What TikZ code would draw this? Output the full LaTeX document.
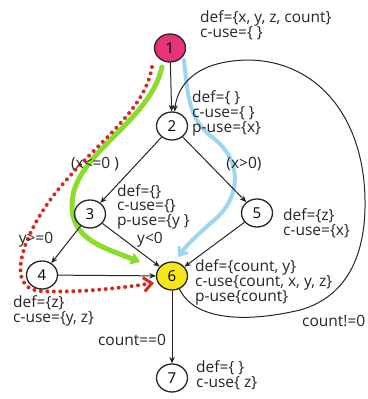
\documentclass[tikz,border=0pt]{standalone}
\usepackage{fontspec}
\setmainfont{Open Sans}
\usetikzlibrary{arrows.meta,shapes.geometric}
\definecolor{pinkfill}{HTML}{E8337A}
\definecolor{yelfill}{HTML}{F4E61A}
\definecolor{hlred}{HTML}{D42A22}
\definecolor{hlgreen}{HTML}{8DDB2C}
\definecolor{hlblue}{HTML}{9ED6F0}
\definecolor{ink}{HTML}{252525}
\begin{document}
\begin{tikzpicture}[x=1pt,y=-1pt,
  st/.style={draw=ink,line width=1.3pt,ellipse,minimum width=31pt,minimum height=28pt,inner sep=0pt,font=\fontsize{15}{15}\selectfont},
  edge/.style={draw=ink,line width=1pt,-{Stealth[length=6.5pt,width=5.5pt]}},
  lbl/.style={font=\fontsize{15.5}{15}\selectfont,text=ink,align=left,anchor=north west,inner sep=0pt},
  elbl/.style={font=\fontsize{15.5}{15}\selectfont,text=ink,inner sep=0pt},
  hl/.style={line cap=round}]
\useasboundingbox[fill=white] (0,0) rectangle (367,399);
% highlights
\coordinate (rs) at (152,67);
\coordinate (re) at (154,283);
\coordinate (gs) at (162,67);
\coordinate (ge) at (140,262);
\coordinate (bs) at (184,60);
\coordinate (be) at (178,257);
\draw[hl,hlgreen,line width=5pt,-{Triangle[length=9pt,width=12pt]}]
  (gs) .. controls (150,120) and (82,150) .. (73,195)
       .. controls (66,238) and (100,246) .. (ge);
\draw[hl,hlblue,line width=4pt,-{Straight Barb[length=7pt,width=11pt,line width=3pt]}]
  (bs) .. controls (188,100) and (190,120) .. (212,137)
       .. controls (245,162) and (240,200) .. (212,222)
       .. controls (196,236) and (186,246) .. (be);
\draw[hlred,line width=4pt,line cap=round,dash pattern=on 0pt off 6.5pt,-{Straight Barb[length=8pt,width=14pt,line width=3pt]}]
  (rs) .. controls (145,110) and (100,140) .. (62,185)
       .. controls (25,228) and (2,288) .. (40,291)
       .. controls (80,293) and (120,288) .. (re);
% nodes
\node[st,fill=pinkfill] (n1) at (170,48) {1};
\node[st] (n2) at (172,126) {2};
\node[st] (n3) at (90,214) {3};
\node[st] (n5) at (257,213) {5};
\node[st] (n4) at (42,275) {4};
\node[st,fill=yelfill] (n6) at (172,276) {6};
\node[st] (n7) at (172,378) {7};
% edges
\draw[edge] (n1) -- (n2);
\draw[edge] (n2) -- (n3);
\draw[edge] (n2) -- (n5);
\draw[edge] (n3) -- (n4);
\draw[edge] (n3) -- (n6);
\draw[edge] (n4) -- (n6);
\draw[edge] (n5) -- (n6);
\draw[edge] (n6) -- (n7);
\draw[edge] (n6.-60) .. controls (195,322) and (250,322) .. (300,310)
   .. controls (350,296) and (366,250) .. (365,200)
   .. controls (364,120) and (320,62) .. (250,60)
   .. controls (200,60) and (178,82) .. (n2.80);
% node labels
\node[lbl] (t1) at (200,10) {def=\{x, y, z, count\}\\c-use=\{ \}};
\node[lbl] (t2) at (192,90) {def=\{ \}\\c-use=\{ \}\\p-use=\{x\}};
\node[lbl,font=\fontsize{15.5}{13.5}\selectfont] (t3) at (117,184) {def=\{\}\\c-use=\{\}\\p-use=\{y \}};
\node[lbl] (t5) at (283,208) {def=\{z\}\\c-use=\{x\}};
\node[lbl] (t6) at (195,259) {def=\{count, y\}\\c-use\{count, x, y, z\}\\p-use\{count\}};
\node[lbl] (t4) at (13,295) {def=\{z\}\\c-use=\{y, z\}};
\node[lbl] (t7) at (196,360) {def=\{ \}\\c-use\{ z\}};
% edge labels
\node[elbl] (e23) at (95,164) {(x<=0 )};
\node[elbl] (e25) at (244,164) {(x>0)};
\node[elbl] (e34) at (36,240) {y>=0};
\node[elbl] (e36) at (150,240) {y<0};
\node[elbl] (e67) at (132,340) {count==0};
\node[elbl,anchor=west] (e62) at (302,321) {count!=0};
\end{tikzpicture}
\end{document}
